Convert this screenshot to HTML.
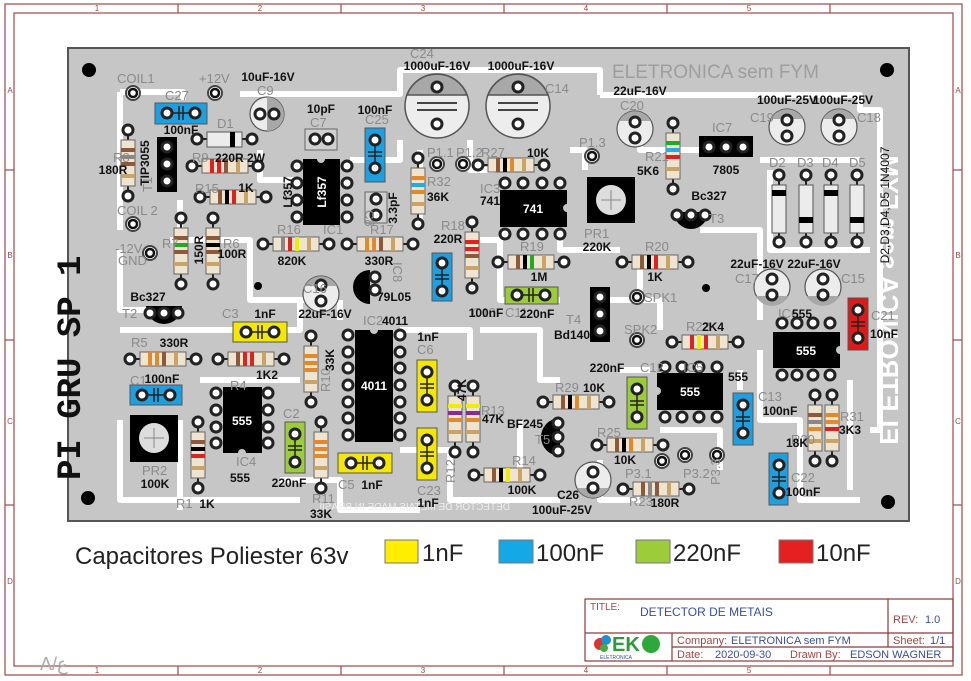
<!DOCTYPE html>
<html><head><meta charset="utf-8"><style>
html,body{margin:0;padding:0;background:#fff;width:971px;height:681px;overflow:hidden}
svg{display:block}
.b{font:bold 12px "Liberation Sans",sans-serif;fill:#111}
.g{font:13px "Liberation Sans",sans-serif;fill:#8a8a8a}
.w{font:bold 12px "Liberation Sans",sans-serif;fill:#fff}
.f{font:8px "Liberation Sans",sans-serif;fill:#a04848}
.t{font:11px "Liberation Sans",sans-serif}
</style></head><body>
<svg width="971" height="681" viewBox="0 0 971 681" xmlns="http://www.w3.org/2000/svg">
<defs>
<g id="pad"><circle r="5" fill="#fff" stroke="#222" stroke-width="3"/></g>
<g id="bpad"><circle r="7" fill="#fff" stroke="#444" stroke-width="2"/><circle r="4" fill="#fff" stroke="#111" stroke-width="2.5"/></g>
<g id="rh"><line x1="-10" y1="7" x2="56" y2="7" stroke="#222" stroke-width="2"/><rect x="0" y="0" width="46" height="14" fill="#efe4cf" stroke="#666"/><use href="#pad" x="-10" y="7"/><use href="#pad" x="56" y="7"/></g>
<g id="ch"><use href="#pad" x="12" y="10"/><use href="#pad" x="40" y="10"/><line x1="17" y1="10" x2="35" y2="10" stroke="#222" stroke-width="1.5"/><line x1="24" y1="3" x2="24" y2="17" stroke="#222" stroke-width="1.5"/><line x1="28" y1="3" x2="28" y2="17" stroke="#222" stroke-width="1.5"/></g>
<g id="cv"><use href="#pad" x="10" y="12"/><use href="#pad" x="10" y="40"/><line x1="10" y1="17" x2="10" y2="35" stroke="#222" stroke-width="1.5"/><line x1="3" y1="24" x2="17" y2="24" stroke="#222" stroke-width="1.5"/><line x1="3" y1="28" x2="17" y2="28" stroke="#222" stroke-width="1.5"/></g>
</defs>

<!-- frame -->
<g fill="none" stroke="#a04848" stroke-width="1.2">
<rect x="5" y="4" width="957" height="671"/>
<rect x="14" y="13" width="939" height="653"/>
<line x1="178" y1="4" x2="178" y2="13"/><line x1="341" y1="4" x2="341" y2="13"/><line x1="504" y1="4" x2="504" y2="13"/><line x1="667" y1="4" x2="667" y2="13"/><line x1="830" y1="4" x2="830" y2="13"/>
<line x1="178" y1="666" x2="178" y2="675"/><line x1="341" y1="666" x2="341" y2="675"/><line x1="504" y1="666" x2="504" y2="675"/><line x1="667" y1="666" x2="667" y2="675"/><line x1="830" y1="666" x2="830" y2="675"/>
<line x1="5" y1="170" x2="14" y2="170"/><line x1="5" y1="340" x2="14" y2="340"/><line x1="5" y1="505" x2="14" y2="505"/>
<line x1="953" y1="170" x2="962" y2="170"/><line x1="953" y1="340" x2="962" y2="340"/><line x1="953" y1="505" x2="962" y2="505"/>
</g>
<g class="f" text-anchor="middle">
<text x="97" y="11">1</text><text x="260" y="11">2</text><text x="423" y="11">3</text><text x="586" y="11">4</text><text x="749" y="11">5</text>
<text x="97" y="673">1</text><text x="260" y="673">2</text><text x="423" y="673">3</text><text x="586" y="673">4</text><text x="749" y="673">5</text>
<text x="10" y="93">A</text><text x="10" y="258">B</text><text x="10" y="424">C</text><text x="10" y="584">D</text>
<text x="958" y="93">A</text><text x="958" y="258">B</text><text x="958" y="424">C</text><text x="958" y="584">D</text>
</g>
<text x="40" y="670" style="font:18px 'Liberation Sans',sans-serif;fill:#aaa">Λ/ع</text>

<!-- board -->
<rect x="68" y="48" width="841" height="473" fill="#c6c6c6" stroke="#555" stroke-width="2"/>

<!-- traces (approx) -->
<g fill="none" stroke="#fff" stroke-width="6" stroke-linejoin="round">
<path d="M120 92 H183 V100 M240 94 H400 V70 H600 V95"/>
<path d="M600 95 H860 V110 H880 V430 H870"/>
<path d="M120 92 V230 M120 250 V310 H180"/>
<path d="M180 200 V240 M170 240 H250 V300 H330"/>
<path d="M260 150 V180 H300 M350 160 H400 V140 M420 150 V230"/>
<path d="M470 140 V170 H495 M570 150 H585 V170 M640 120 V150 H700"/>
<path d="M760 160 H860 M770 170 V250 H870 M700 230 H760 V320"/>
<path d="M480 240 H500 V300 H560 M560 230 V250 H620"/>
<path d="M600 300 H660 V330 M640 300 V260"/>
<path d="M120 330 H300 V300 M200 380 H300 M120 420 V500 H300"/>
<path d="M340 300 V320 M400 330 H470 V360 M400 450 H450 V500 H560"/>
<path d="M480 330 H540 V380 H560 M520 420 V470"/>
<path d="M620 370 H650 M740 370 V390 M760 350 V420 H800 V500 H860"/>
<path d="M660 430 H720 V470 M600 460 V500 H640 M850 380 V490"/>
<path d="M180 420 V510 M280 480 H340 V510 H420"/>
</g>

<!-- mounting holes -->
<g fill="#000"><circle cx="89" cy="70" r="7"/><circle cx="887" cy="70" r="7"/><circle cx="88" cy="498" r="7"/><circle cx="888" cy="502" r="7"/><circle cx="258" cy="286" r="4"/><circle cx="706" cy="288" r="4"/></g>

<!-- silkscreen texts -->
<text x="612" y="78" style="font:19px 'Liberation Sans',sans-serif;fill:#999;fill-opacity:.9">ELETRONICA sem FYM</text>
<text transform="translate(80,480) rotate(-90)" style="font:bold 34px 'Liberation Mono',monospace;fill:#111">PI GRU SP 1</text>
<text transform="translate(880,300) rotate(90) scale(-1,1)" text-anchor="middle" x="0" y="0" style="font:bold 26px 'Liberation Sans',sans-serif;fill:#fff">ELETRONICA sem FYM</text>
<text transform="translate(510,510) scale(-1,1)" style="font:10px 'Liberation Sans',sans-serif;fill:#eee">DETECTOR DE METAIS MADE IN BRASIL</text>

<!-- big electrolytics -->
<g stroke="#555" stroke-width="1.5">
<circle cx="437" cy="106" r="32" fill="#ededed"/><path d="M407 95 A32 32 0 0 1 467 95 Z" fill="#a8a8a8"/>
<circle cx="518" cy="106" r="32" fill="#ededed"/><path d="M488 95 A32 32 0 0 1 548 95 Z" fill="#a8a8a8"/>
</g>
<g stroke="#444" stroke-width="2"><line x1="417" y1="103" x2="457" y2="103"/><line x1="417" y1="110" x2="457" y2="110"/><line x1="498" y1="103" x2="538" y2="103"/><line x1="498" y1="110" x2="538" y2="110"/></g>
<use href="#pad" x="437" y="87"/><use href="#pad" x="437" y="124"/><use href="#pad" x="518" y="87"/><use href="#pad" x="518" y="124"/>

<!-- small electrolytics -->
<g stroke="#555" stroke-width="1.2" fill="#ececec">
<circle cx="267" cy="114" r="17"/><circle cx="635" cy="129" r="18"/><circle cx="787" cy="127" r="18"/><circle cx="839" cy="127" r="18"/>
<circle cx="321" cy="294" r="18"/><circle cx="772" cy="287" r="18"/><circle cx="823" cy="287" r="18"/><circle cx="593" cy="480" r="18"/>
</g>
<g fill="#a8a8a8"><path d="M267 97 A17 17 0 0 1 267 131 Z"/><path d="M619 121 A18 18 0 0 1 651 121 Z"/><path d="M771 119 A18 18 0 0 1 803 119 Z"/><path d="M823 119 A18 18 0 0 1 855 119 Z"/>
<path d="M305 286 A18 18 0 0 1 337 286 Z"/><path d="M756 296 A18 18 0 0 0 788 296 Z"/><path d="M807 296 A18 18 0 0 0 839 296 Z"/><path d="M577 488 A18 18 0 0 0 609 488 Z"/></g>
<g>
<use href="#pad" x="260" y="114"/><use href="#pad" x="274" y="114"/>
<use href="#pad" x="635" y="122"/><use href="#pad" x="635" y="138"/>
<use href="#pad" x="787" y="120"/><use href="#pad" x="787" y="136"/>
<use href="#pad" x="839" y="120"/><use href="#pad" x="839" y="136"/>
<use href="#pad" x="321" y="285"/><use href="#pad" x="321" y="301"/>
<use href="#pad" x="772" y="279"/><use href="#pad" x="772" y="295"/>
<use href="#pad" x="823" y="279"/><use href="#pad" x="823" y="295"/>
<use href="#pad" x="593" y="472"/><use href="#pad" x="593" y="488"/>
</g>

<!-- ICs -->
<g fill="#000">
<rect x="303" y="159" width="37" height="66"/><rect x="355" y="330" width="38" height="112"/>
<rect x="500" y="190" width="67" height="37"/><rect x="223" y="387" width="39" height="66"/>
<rect x="657" y="373" width="66" height="37"/><rect x="773" y="332" width="67" height="36"/>
<rect x="699" y="136" width="54" height="21"/>
<rect x="157" y="137" width="20" height="55"/><rect x="590" y="287" width="20" height="55"/>
<rect x="587" y="177" width="48" height="46"/><rect x="130" y="415" width="48" height="47"/>
<path d="M146 306 H182 A18 18 0 0 1 146 306 Z"/><path d="M674 212 H708 A17 17 0 0 1 674 212 Z"/>
<path d="M560 418 V456 A19 19 0 0 1 560 418 Z"/><path d="M370 270 V304 A17 17 0 0 1 370 270 Z"/>
</g>
<g fill="#c6c6c6"><circle cx="321" cy="159" r="4"/><circle cx="374" cy="330" r="4"/><circle cx="567" cy="208" r="4"/><circle cx="242" cy="453" r="4"/><circle cx="657" cy="391" r="4"/><circle cx="840" cy="350" r="4"/></g>
<g fill="#ddd"><circle cx="611" cy="200" r="15"/><circle cx="154" cy="438" r="15"/></g>
<g stroke="#888"><line x1="611" y1="190" x2="611" y2="210"/><line x1="601" y1="200" x2="621" y2="200"/><line x1="154" y1="428" x2="154" y2="448"/><line x1="144" y1="438" x2="164" y2="438"/></g>
<g>
<use href="#pad" x="297" y="166"/><use href="#pad" x="297" y="183"/><use href="#pad" x="297" y="200"/><use href="#pad" x="297" y="217"/>
<use href="#pad" x="347" y="166"/><use href="#pad" x="347" y="183"/><use href="#pad" x="347" y="200"/><use href="#pad" x="347" y="217"/>
<use href="#pad" x="348" y="335"/><use href="#pad" x="348" y="352"/><use href="#pad" x="348" y="368"/><use href="#pad" x="348" y="385"/><use href="#pad" x="348" y="402"/><use href="#pad" x="348" y="418"/><use href="#pad" x="348" y="435"/>
<use href="#pad" x="400" y="335"/><use href="#pad" x="400" y="352"/><use href="#pad" x="400" y="368"/><use href="#pad" x="400" y="385"/><use href="#pad" x="400" y="402"/><use href="#pad" x="400" y="418"/><use href="#pad" x="400" y="435"/>
<use href="#pad" x="505" y="183"/><use href="#pad" x="523" y="183"/><use href="#pad" x="542" y="183"/><use href="#pad" x="560" y="183"/>
<use href="#pad" x="505" y="234"/><use href="#pad" x="523" y="234"/><use href="#pad" x="542" y="234"/><use href="#pad" x="560" y="234"/>
<use href="#pad" x="216" y="393"/><use href="#pad" x="216" y="410"/><use href="#pad" x="216" y="427"/><use href="#pad" x="216" y="443"/>
<use href="#pad" x="268" y="393"/><use href="#pad" x="268" y="410"/><use href="#pad" x="268" y="427"/><use href="#pad" x="268" y="443"/>
<use href="#pad" x="665" y="367"/><use href="#pad" x="682" y="367"/><use href="#pad" x="699" y="367"/><use href="#pad" x="717" y="367"/>
<use href="#pad" x="665" y="417"/><use href="#pad" x="682" y="417"/><use href="#pad" x="699" y="417"/><use href="#pad" x="717" y="417"/>
<use href="#pad" x="782" y="323"/><use href="#pad" x="797" y="323"/><use href="#pad" x="813" y="323"/><use href="#pad" x="830" y="323"/>
<use href="#pad" x="782" y="375"/><use href="#pad" x="797" y="375"/><use href="#pad" x="813" y="375"/><use href="#pad" x="830" y="375"/>
<use href="#pad" x="709" y="147"/><use href="#pad" x="726" y="147"/><use href="#pad" x="743" y="147"/>
<use href="#pad" x="167" y="147"/><use href="#pad" x="167" y="164"/><use href="#pad" x="167" y="181"/>
<use href="#pad" x="600" y="297"/><use href="#pad" x="600" y="314"/><use href="#pad" x="600" y="331"/>
<use href="#pad" x="150" y="313"/><use href="#pad" x="164" y="313"/><use href="#pad" x="178" y="313"/>
<use href="#pad" x="677" y="215"/><use href="#pad" x="691" y="215"/><use href="#pad" x="705" y="215"/>
<use href="#pad" x="558" y="423"/><use href="#pad" x="558" y="437"/><use href="#pad" x="558" y="451"/>
<use href="#pad" x="375" y="277"/><use href="#pad" x="375" y="290"/>
</g>
<g class="w" text-anchor="middle">
<text transform="translate(326,192) rotate(-90)">Lf357</text><text x="374" y="390">4011</text><text x="533" y="213">741</text>
<text x="242" y="425">555</text><text x="690" y="396">555</text><text x="806" y="355">555</text>
</g>

<!-- pads generic -->
<g>
<use href="#bpad" x="133" y="93"/><use href="#bpad" x="215" y="93"/><use href="#bpad" x="133" y="224"/><use href="#bpad" x="150" y="253"/>
<use href="#bpad" x="437" y="164"/><use href="#bpad" x="463" y="164"/><use href="#bpad" x="592" y="156"/>
<use href="#bpad" x="637" y="297"/><use href="#bpad" x="637" y="340"/><use href="#bpad" x="662" y="461"/><use href="#bpad" x="685" y="455"/><use href="#bpad" x="717" y="455"/>
</g>

<!-- small caps C7, C8 -->
<rect x="305" y="129" width="32" height="21" fill="#d0d0d0" stroke="#666"/><use href="#pad" x="315" y="139"/><use href="#pad" x="328" y="139"/>
<rect x="365" y="192" width="22" height="31" fill="#d0d0d0" stroke="#666"/><use href="#pad" x="376" y="199"/><use href="#pad" x="376" y="215"/>

<!-- diode D1 -->
<line x1="197" y1="139" x2="252" y2="139" stroke="#222" stroke-width="2"/>
<rect x="207" y="132" width="35" height="15" fill="#ececec" stroke="#555"/><rect x="230" y="132" width="5" height="15" fill="#000"/>
<use href="#pad" x="197" y="139"/><use href="#pad" x="252" y="139"/>
<!-- D2-D5 -->
<g stroke="#222" stroke-width="2"><line x1="779" y1="175" x2="779" y2="242"/><line x1="806" y1="175" x2="806" y2="242"/><line x1="831" y1="175" x2="831" y2="242"/><line x1="857" y1="175" x2="857" y2="242"/></g>
<g fill="#ececec" stroke="#555"><rect x="772" y="185" width="14" height="48"/><rect x="799" y="185" width="14" height="48"/><rect x="824" y="185" width="14" height="48"/><rect x="850" y="185" width="14" height="48"/></g>
<g fill="#000"><rect x="772" y="190" width="14" height="6"/><rect x="799" y="217" width="14" height="6"/><rect x="824" y="190" width="14" height="6"/><rect x="850" y="217" width="14" height="6"/></g>
<g><use href="#pad" x="779" y="175"/><use href="#pad" x="806" y="175"/><use href="#pad" x="831" y="175"/><use href="#pad" x="857" y="175"/>
<use href="#pad" x="779" y="242"/><use href="#pad" x="806" y="242"/><use href="#pad" x="831" y="242"/><use href="#pad" x="857" y="242"/></g>

<!-- resistors horizontal -->
<g transform="translate(202,159)"><use href="#rh"/><rect x="8" y="0" width="4" height="14" fill="#d22"/><rect x="15" y="0" width="4" height="14" fill="#d22"/><rect x="22" y="0" width="4" height="14" fill="#8b5a3c"/><rect x="34" y="0" width="4" height="14" fill="#c9a46a"/></g>
<g transform="translate(210,190)"><use href="#rh"/><rect x="8" y="0" width="4" height="14" fill="#8b5a3c"/><rect x="15" y="0" width="4" height="14" fill="#000"/><rect x="22" y="0" width="4" height="14" fill="#d22"/><rect x="34" y="0" width="4" height="14" fill="#c9a46a"/></g>
<g transform="translate(273,237)"><use href="#rh"/><rect x="8" y="0" width="4" height="14" fill="#888"/><rect x="15" y="0" width="4" height="14" fill="#d22"/><rect x="22" y="0" width="4" height="14" fill="#ee0"/><rect x="34" y="0" width="4" height="14" fill="#c9a46a"/></g>
<g transform="translate(357,237)"><use href="#rh"/><rect x="8" y="0" width="4" height="14" fill="#e08a30"/><rect x="15" y="0" width="4" height="14" fill="#e08a30"/><rect x="22" y="0" width="4" height="14" fill="#8b5a3c"/><rect x="34" y="0" width="4" height="14" fill="#c9a46a"/></g>
<g transform="translate(488,158)"><use href="#rh"/><rect x="8" y="0" width="4" height="14" fill="#8b5a3c"/><rect x="15" y="0" width="4" height="14" fill="#000"/><rect x="22" y="0" width="4" height="14" fill="#e08a30"/><rect x="34" y="0" width="4" height="14" fill="#c9a46a"/></g>
<g transform="translate(508,255)"><use href="#rh"/><rect x="8" y="0" width="4" height="14" fill="#8b5a3c"/><rect x="15" y="0" width="4" height="14" fill="#000"/><rect x="22" y="0" width="4" height="14" fill="#2a2"/><rect x="34" y="0" width="4" height="14" fill="#c9a46a"/></g>
<g transform="translate(632,255)"><use href="#rh"/><rect x="8" y="0" width="4" height="14" fill="#8b5a3c"/><rect x="15" y="0" width="4" height="14" fill="#000"/><rect x="22" y="0" width="4" height="14" fill="#d22"/><rect x="34" y="0" width="4" height="14" fill="#c9a46a"/></g>
<g transform="translate(140,352)"><use href="#rh"/><rect x="8" y="0" width="4" height="14" fill="#e08a30"/><rect x="15" y="0" width="4" height="14" fill="#e08a30"/><rect x="22" y="0" width="4" height="14" fill="#8b5a3c"/><rect x="34" y="0" width="4" height="14" fill="#c9a46a"/></g>
<g transform="translate(228,352)"><use href="#rh"/><rect x="8" y="0" width="4" height="14" fill="#8b5a3c"/><rect x="15" y="0" width="4" height="14" fill="#d22"/><rect x="22" y="0" width="4" height="14" fill="#d22"/><rect x="34" y="0" width="4" height="14" fill="#c9a46a"/></g>
<g transform="translate(682,335)"><use href="#rh"/><rect x="8" y="0" width="4" height="14" fill="#d22"/><rect x="15" y="0" width="4" height="14" fill="#ee0"/><rect x="22" y="0" width="4" height="14" fill="#d22"/><rect x="34" y="0" width="4" height="14" fill="#c9a46a"/></g>
<g transform="translate(553,395)"><use href="#rh"/><rect x="8" y="0" width="4" height="14" fill="#8b5a3c"/><rect x="15" y="0" width="4" height="14" fill="#000"/><rect x="22" y="0" width="4" height="14" fill="#e08a30"/><rect x="34" y="0" width="4" height="14" fill="#c9a46a"/></g>
<g transform="translate(607,438)"><use href="#rh"/><rect x="8" y="0" width="4" height="14" fill="#8b5a3c"/><rect x="15" y="0" width="4" height="14" fill="#000"/><rect x="22" y="0" width="4" height="14" fill="#e08a30"/><rect x="34" y="0" width="4" height="14" fill="#c9a46a"/></g>
<g transform="translate(484,468)"><use href="#rh"/><rect x="8" y="0" width="4" height="14" fill="#8b5a3c"/><rect x="15" y="0" width="4" height="14" fill="#000"/><rect x="22" y="0" width="4" height="14" fill="#ee0"/><rect x="34" y="0" width="4" height="14" fill="#c9a46a"/></g>
<g transform="translate(633,482)"><use href="#rh"/><rect x="8" y="0" width="4" height="14" fill="#8b5a3c"/><rect x="15" y="0" width="4" height="14" fill="#888"/><rect x="22" y="0" width="4" height="14" fill="#8b5a3c"/><rect x="34" y="0" width="4" height="14" fill="#c9a46a"/></g>

<!-- resistors vertical -->
<g transform="translate(135,140) rotate(90)"><use href="#rh"/><rect x="8" y="0" width="4" height="14" fill="#8b5a3c"/><rect x="15" y="0" width="4" height="14" fill="#888"/><rect x="22" y="0" width="4" height="14" fill="#8b5a3c"/><rect x="34" y="0" width="4" height="14" fill="#c9a46a"/></g>
<g transform="translate(188,228) rotate(90)"><use href="#rh"/><rect x="8" y="0" width="4" height="14" fill="#8b5a3c"/><rect x="15" y="0" width="4" height="14" fill="#2a2"/><rect x="22" y="0" width="4" height="14" fill="#8b5a3c"/><rect x="34" y="0" width="4" height="14" fill="#c9a46a"/></g>
<g transform="translate(220,228) rotate(90)"><use href="#rh"/><rect x="8" y="0" width="4" height="14" fill="#8b5a3c"/><rect x="15" y="0" width="4" height="14" fill="#000"/><rect x="22" y="0" width="4" height="14" fill="#8b5a3c"/><rect x="34" y="0" width="4" height="14" fill="#c9a46a"/></g>
<g transform="translate(425,168) rotate(90)"><use href="#rh"/><rect x="8" y="0" width="4" height="14" fill="#e08a30"/><rect x="15" y="0" width="4" height="14" fill="#2aa8e0"/><rect x="22" y="0" width="4" height="14" fill="#e08a30"/><rect x="34" y="0" width="4" height="14" fill="#c9a46a"/></g>
<g transform="translate(479,232) rotate(90)"><use href="#rh"/><rect x="8" y="0" width="4" height="14" fill="#d22"/><rect x="15" y="0" width="4" height="14" fill="#d22"/><rect x="22" y="0" width="4" height="14" fill="#8b5a3c"/><rect x="34" y="0" width="4" height="14" fill="#c9a46a"/></g>
<g transform="translate(680,133) rotate(90)"><use href="#rh"/><rect x="8" y="0" width="4" height="14" fill="#2a2"/><rect x="15" y="0" width="4" height="14" fill="#2aa8e0"/><rect x="22" y="0" width="4" height="14" fill="#d22"/><rect x="34" y="0" width="4" height="14" fill="#c9a46a"/></g>
<g transform="translate(318,346) rotate(90)"><use href="#rh"/><rect x="8" y="0" width="4" height="14" fill="#e08a30"/><rect x="15" y="0" width="4" height="14" fill="#e08a30"/><rect x="22" y="0" width="4" height="14" fill="#e08a30"/><rect x="34" y="0" width="4" height="14" fill="#c9a46a"/></g>
<g transform="translate(205,432) rotate(90)"><use href="#rh"/><rect x="8" y="0" width="4" height="14" fill="#8b5a3c"/><rect x="15" y="0" width="4" height="14" fill="#000"/><rect x="22" y="0" width="4" height="14" fill="#d22"/><rect x="34" y="0" width="4" height="14" fill="#c9a46a"/></g>
<g transform="translate(328,432) rotate(90)"><use href="#rh"/><rect x="8" y="0" width="4" height="14" fill="#e08a30"/><rect x="15" y="0" width="4" height="14" fill="#e08a30"/><rect x="22" y="0" width="4" height="14" fill="#e08a30"/><rect x="34" y="0" width="4" height="14" fill="#c9a46a"/></g>
<g transform="translate(462,396) rotate(90)"><use href="#rh"/><rect x="8" y="0" width="4" height="14" fill="#ee0"/><rect x="15" y="0" width="4" height="14" fill="#8a2a9a"/><rect x="22" y="0" width="4" height="14" fill="#e08a30"/><rect x="34" y="0" width="4" height="14" fill="#c9a46a"/></g>
<g transform="translate(480,396) rotate(90)"><use href="#rh"/><rect x="8" y="0" width="4" height="14" fill="#ee0"/><rect x="15" y="0" width="4" height="14" fill="#8a2a9a"/><rect x="22" y="0" width="4" height="14" fill="#e08a30"/><rect x="34" y="0" width="4" height="14" fill="#c9a46a"/></g>
<g transform="translate(822,405) rotate(90)"><use href="#rh"/><rect x="8" y="0" width="4" height="14" fill="#8b5a3c"/><rect x="15" y="0" width="4" height="14" fill="#888"/><rect x="22" y="0" width="4" height="14" fill="#e08a30"/><rect x="34" y="0" width="4" height="14" fill="#c9a46a"/></g>
<g transform="translate(839,405) rotate(90)"><use href="#rh"/><rect x="8" y="0" width="4" height="14" fill="#e08a30"/><rect x="15" y="0" width="4" height="14" fill="#e08a30"/><rect x="22" y="0" width="4" height="14" fill="#d22"/><rect x="34" y="0" width="4" height="14" fill="#c9a46a"/></g>

<!-- film caps -->
<g stroke="#555">
<rect x="155" y="103" width="52" height="21" fill="#1ea0e0"/>
<rect x="130" y="385" width="52" height="20" fill="#1ea0e0"/>
<rect x="233" y="322" width="54" height="20" fill="#f4e800"/>
<rect x="338" y="453" width="54" height="20" fill="#f4e800"/>
<rect x="505" y="287" width="53" height="17" fill="#9ccc3a"/>
<rect x="365" y="128" width="20" height="54" fill="#1ea0e0"/>
<rect x="432" y="253" width="20" height="48" fill="#1ea0e0"/>
<rect x="417" y="360" width="20" height="52" fill="#f4e800"/>
<rect x="417" y="428" width="20" height="52" fill="#f4e800"/>
<rect x="285" y="422" width="20" height="51" fill="#9ccc3a"/>
<rect x="627" y="377" width="20" height="52" fill="#9ccc3a"/>
<rect x="733" y="393" width="20" height="52" fill="#1ea0e0"/>
<rect x="769" y="453" width="19" height="52" fill="#1ea0e0"/>
<rect x="848" y="298" width="20" height="52" fill="#e01818"/>
</g>
<use href="#ch" x="155" y="103"/><use href="#ch" x="130" y="385"/><use href="#ch" x="234" y="322"/><use href="#ch" x="339" y="453"/><use href="#ch" x="505" y="285"/>
<use href="#cv" x="365" y="128"/><use href="#cv" x="432" y="251"/><use href="#cv" x="417" y="360"/><use href="#cv" x="417" y="428"/><use href="#cv" x="285" y="422"/>
<use href="#cv" x="627" y="377"/><use href="#cv" x="733" y="393"/><use href="#cv" x="769" y="453"/><use href="#cv" x="848" y="298"/>

<!-- grey designators -->
<g class="g">
<text x="117" y="83">COIL1</text><text x="199" y="83">+12V</text><text x="165" y="100">C27</text><text x="257" y="95">C9</text>
<text x="217" y="128">D1</text><text x="192" y="162">R9</text><text x="195" y="193">R15</text><text x="113" y="162">R8</text>
<text x="117" y="215">COIL 2</text><text x="162" y="248">R7</text><text x="223" y="248">R6</text><text x="115" y="253">-12V</text><text x="118" y="265">GND</text>
<text x="310" y="127">C7</text><text x="365" y="124">C25</text><text x="277" y="234">R16</text><text x="323" y="234">IC1</text><text x="370" y="234">R17</text>
<text x="410" y="58">C24</text><text x="545" y="93">C14</text><text x="427" y="157">P1.1</text><text x="456" y="157">P1.2</text>
<text x="427" y="186">R32</text><text x="441" y="230">R18</text><text x="480" y="193">IC3</text><text x="481" y="157">R27</text>
<text x="620" y="110">C20</text><text x="579" y="147">P1.3</text><text x="645" y="161">R21</text><text x="712" y="132">IC7</text>
<text x="750" y="122">C19</text><text x="857" y="122">C18</text><text x="769" y="167">D2</text><text x="797" y="167">D3</text><text x="822" y="167">D4</text><text x="849" y="167">D5</text>
<text x="709" y="223">T3</text><text x="584" y="238">PR1</text><text x="520" y="251">R19</text><text x="645" y="251">R20</text>
<text x="735" y="283">C17</text><text x="841" y="283">C15</text><text x="644" y="302">SPK1</text><text x="624" y="334">SPK2</text>
<text x="566" y="324">T4</text><text x="686" y="331">R22</text><text x="778" y="318">IC6</text><text x="871" y="320">C21</text>
<text x="683" y="372">IC5</text><text x="640" y="372">C12</text><text x="555" y="392">R29</text><text x="758" y="401">C13</text>
<text x="535" y="444">T5</text><text x="597" y="437">R25</text><text x="512" y="465">R14</text><text x="625" y="478">P3.1</text><text x="683" y="478">P3.2</text>
<text x="791" y="444">R30</text><text x="840" y="421">R31</text><text x="791" y="482">C22</text><text x="629" y="506">R23</text>
<text x="122" y="318">T2</text><text x="222" y="318">C3</text><text x="131" y="347">R5</text><text x="130" y="385">C1</text><text x="230" y="390">R4</text>
<text x="283" y="418">C2</text><text x="142" y="475">PR2</text><text x="176" y="508">R1</text><text x="236" y="466">IC4</text><text x="312" y="503">R11</text>
<text x="338" y="489">C5</text><text x="417" y="495">C23</text><text x="417" y="354">C6</text><text x="363" y="325">IC2</text><text x="481" y="415">R13</text>
<text x="303" y="293">C16</text><text x="472" y="317">C10</text><text x="505" y="317">C11</text>
<text transform="translate(455,483) rotate(-90)">R12</text><text transform="translate(330,392) rotate(-90)">R10</text>
<text transform="translate(720,485) rotate(-90)">P3.3</text><text transform="translate(365,210) rotate(90)">C8</text><text transform="translate(393,262) rotate(90)">IC8</text>
<text transform="translate(152,192) rotate(-90)">T1</text>
</g>

<!-- bold values -->
<g class="b" text-anchor="middle">
<text x="268" y="81">10uF-16V</text><text x="181" y="134">100nF</text><text x="240" y="162">220R 2W</text><text x="246" y="192">1K</text>
<text x="113" y="174">180R</text><text x="321" y="113">10pF</text><text x="375" y="114">100nF</text><text x="292" y="265">820K</text><text x="379" y="265">330R</text>
<text x="437" y="70">1000uF-16V</text><text x="521" y="70">1000uF-16V</text><text x="438" y="201">36K</text><text x="448" y="243">220R</text><text x="490" y="205">741</text>
<text x="538" y="157">10K</text><text x="640" y="95">22uF-16V</text><text x="648" y="175">5K6</text><text x="726" y="174">7805</text><text x="709" y="200">Bc327</text>
<text x="787" y="104">100uF-25V</text><text x="843" y="104">100uF-25V</text><text x="597" y="251">220K</text><text x="539" y="281">1M</text><text x="655" y="281">1K</text>
<text x="757" y="268">22uF-16V</text><text x="814" y="268">22uF-16V</text><text x="537" y="318">220nF</text><text x="572" y="339">Bd140</text>
<text x="713" y="331">2K4</text><text x="802" y="318">555</text><text x="884" y="338">10nF</text><text x="607" y="372">220nF</text><text x="738" y="381">555</text>
<text x="594" y="392">10K</text><text x="780" y="415">100nF</text><text x="525" y="428">BF245</text><text x="625" y="464">10K</text><text x="522" y="494">100K</text>
<text x="797" y="447">18K</text><text x="850" y="434">3K3</text><text x="803" y="496">100nF</text><text x="568" y="499">C26</text><text x="562" y="514">100uF-25V</text><text x="665" y="507">180R</text>
<text x="148" y="301">Bc327</text><text x="265" y="318">1nF</text><text x="174" y="347">330R</text><text x="162" y="383">100nF</text><text x="267" y="379">1K2</text>
<text x="325" y="318">22uF-16V</text><text x="394" y="301">79L05</text><text x="395" y="325">4011</text><text x="428" y="341">1nF</text><text x="493" y="423">47K</text>
<text x="155" y="488">100K</text><text x="207" y="508">1K</text><text x="240" y="482">555</text><text x="289" y="487">220nF</text><text x="321" y="518">33K</text>
<text x="372" y="489">1nF</text><text x="428" y="507">1nF</text><text x="486" y="317">100nF</text>
<text transform="translate(466,390) rotate(-90)">47K</text><text transform="translate(334,360) rotate(-90)">33K</text>
<text transform="translate(397,208) rotate(-90)">3.3pF</text><text transform="translate(292,192) rotate(-90)">Lf357</text>
<text transform="translate(149,163) rotate(-90)">TIP3055</text><text transform="translate(203,250) rotate(-90)">150R</text><text x="232" y="258">100R</text>
<text transform="translate(889,205) rotate(-90)" style="font-weight:normal">D2,D3,D4,D5 1N4007</text>
</g>

<!-- legend -->
<text x="75" y="564" style="font:24px 'Liberation Sans',sans-serif;fill:#222">Capacitores Poliester 63v</text>
<g stroke="#777"><rect x="385" y="540" width="33" height="23" fill="#ffee00"/><rect x="499" y="540" width="34" height="23" fill="#14a8e6"/><rect x="636" y="540" width="34" height="23" fill="#9ccc3a"/><rect x="779" y="540" width="34" height="23" fill="#e62020"/></g>
<g style="font:24px 'Liberation Sans',sans-serif;fill:#222"><text x="422" y="561">1nF</text><text x="536" y="561">100nF</text><text x="673" y="561">220nF</text><text x="816" y="561">10nF</text></g>

<!-- title block -->
<g fill="none" stroke="#8a3a3a" stroke-width="1.2">
<rect x="585" y="599" width="368" height="62"/>
<line x1="585" y1="633" x2="953" y2="633"/><line x1="888" y1="599" x2="888" y2="647"/>
<line x1="672" y1="633" x2="672" y2="661"/><line x1="672" y1="647" x2="953" y2="647"/>
</g>
<g class="t">
<text x="590" y="610" style="font-size:10px;fill:#a04848">TITLE:</text>
<text x="640" y="616" style="font-size:12px;fill:#3a4f9a">DETECTOR DE METAIS</text>
<text x="893" y="623" style="fill:#a04848">REV:</text><text x="925" y="623" style="fill:#3a4f9a">1.0</text>
<text x="677" y="644" style="fill:#a04848">Company:</text><text x="731" y="644" style="fill:#3a4f9a">ELETRONICA sem FYM</text>
<text x="893" y="644" style="fill:#a04848">Sheet:</text><text x="930" y="644" style="fill:#3a4f9a">1/1</text>
<text x="677" y="658" style="fill:#a04848">Date:</text><text x="715" y="658" style="fill:#3a4f9a">2020-09-30</text>
<text x="790" y="658" style="fill:#a04848">Drawn By:</text><text x="850" y="658" style="fill:#3a4f9a">EDSON WAGNER</text>
</g>
<circle cx="600" cy="644" r="6" fill="#d33"/><circle cx="606" cy="640" r="5" fill="#1e8fd0"/><circle cx="604" cy="648" r="4" fill="#4a4"/>
<text x="612" y="651" style="font:bold 20px 'Liberation Sans',sans-serif;fill:#2e9a3a">EK</text><circle cx="651" cy="644" r="9" fill="#2ea83a"/>
<text x="600" y="659" style="font:5px 'Liberation Sans',sans-serif;fill:#2d5a9a">ELETRONICA</text>
</svg>
</body></html>
